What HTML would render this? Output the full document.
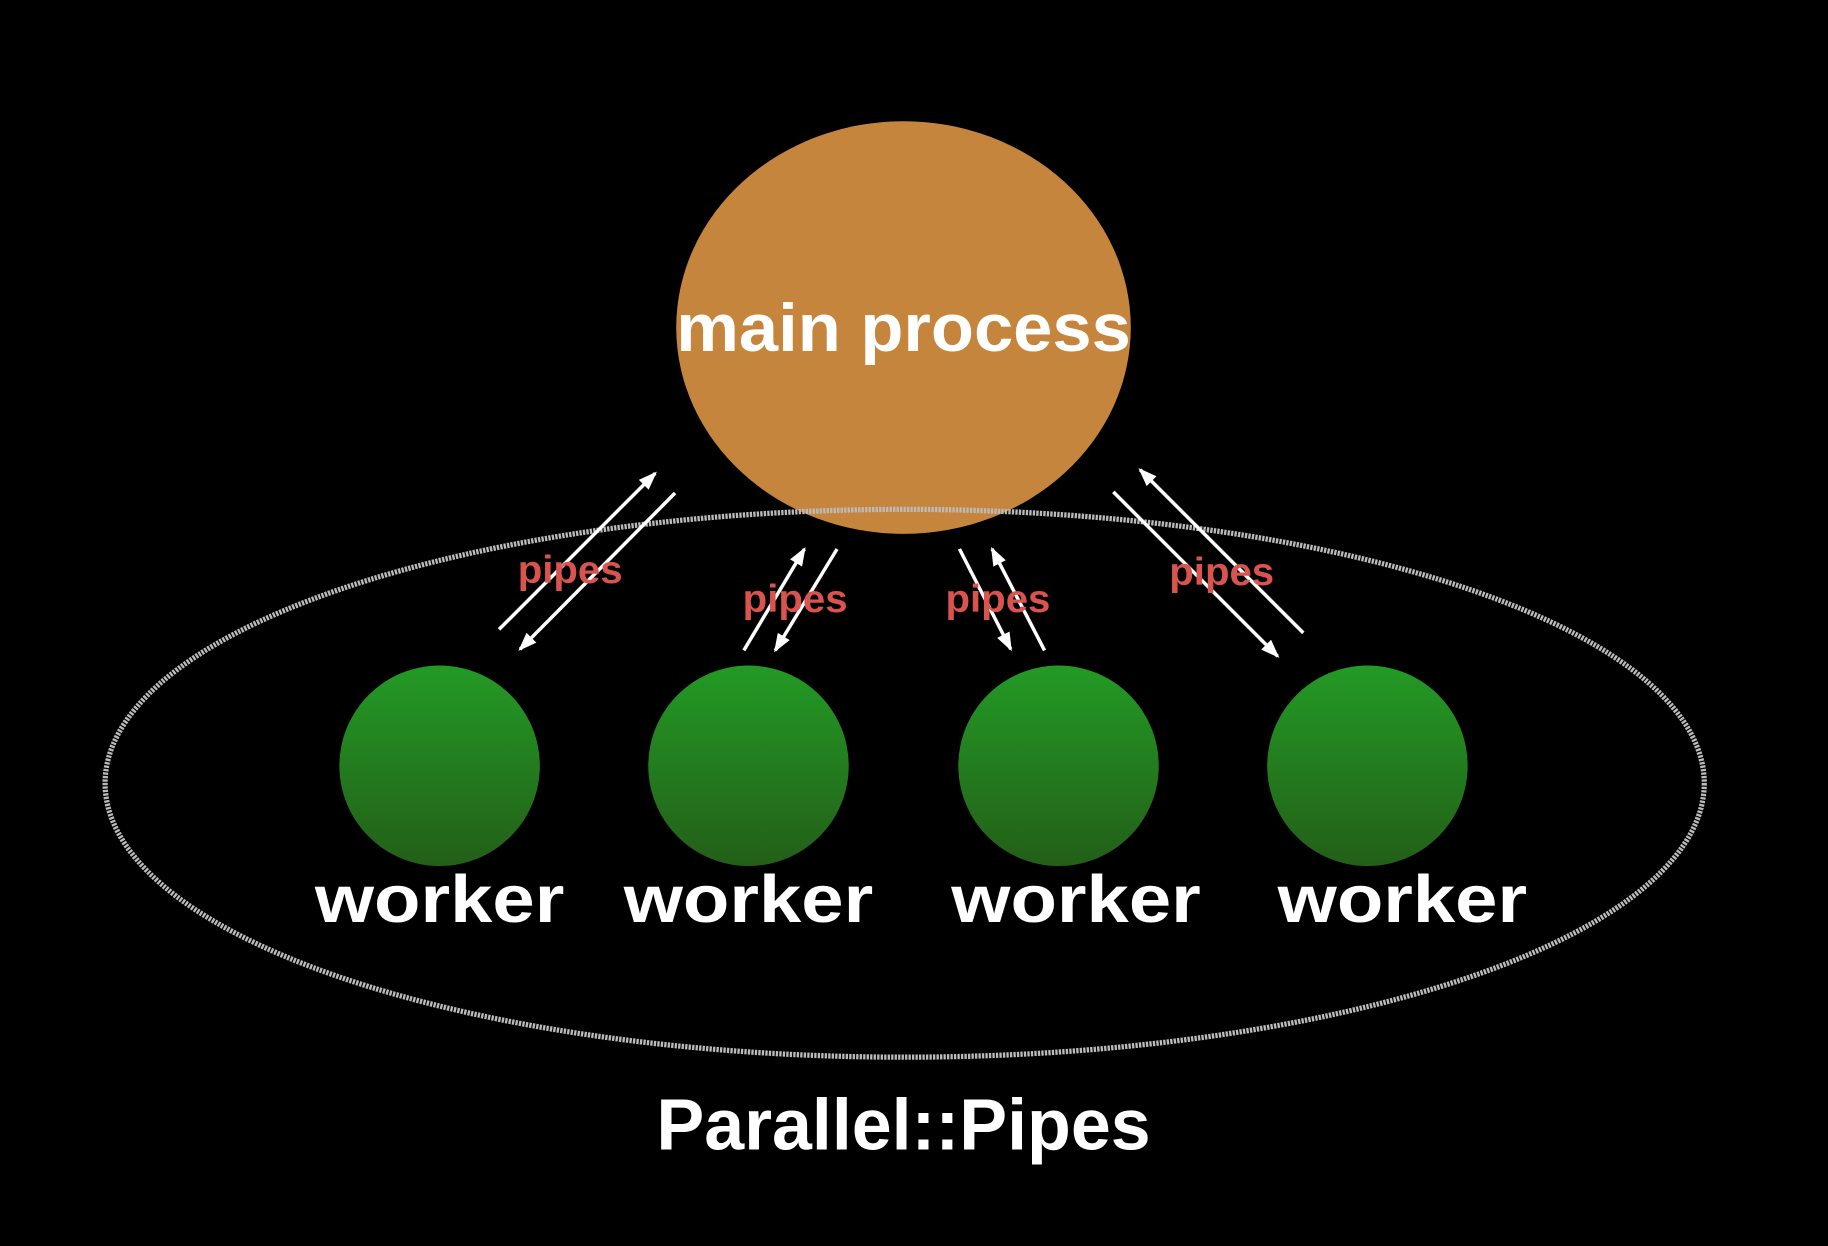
<!DOCTYPE html>
<html><head><meta charset="utf-8"><style>
html,body{margin:0;padding:0;background:#000;}
svg{display:block;}
text{font-family:"Liberation Sans",sans-serif;font-weight:bold;}
</style></head><body>
<svg width="1828" height="1246" viewBox="0 0 1568 1069" xmlns="http://www.w3.org/2000/svg">
<defs>
<linearGradient id="g" x1="0" y1="0" x2="0" y2="1">
<stop offset="0" stop-color="#239a25"/><stop offset="1" stop-color="#235f18"/>
</linearGradient>
<marker id="b" markerWidth="16" markerHeight="12" refX="14" refY="6" orient="auto" markerUnits="userSpaceOnUse">
<path d="M0,0 L16,6 L0,12 z" fill="#fff"/>
</marker>
</defs>
<rect width="1568" height="1069" fill="#000"/>
<ellipse cx="775" cy="281" rx="195" ry="177" fill="#c5853d"/>
<ellipse cx="776" cy="672" rx="686" ry="235" fill="none" stroke="#bbb" stroke-width="4.5" stroke-dasharray="2 1"/>
<circle cx="377" cy="657" r="86" fill="url(#g)"/>
<circle cx="642" cy="657" r="86" fill="url(#g)"/>
<circle cx="908" cy="657" r="86" fill="url(#g)"/>
<circle cx="1173" cy="657" r="86" fill="url(#g)"/>
<g stroke="#fff" stroke-width="3" marker-end="url(#b)">
<line x1="428" y1="540" x2="562" y2="406"/>
<line x1="579" y1="423" x2="446" y2="557"/>
<line x1="638" y1="558" x2="690" y2="471"/>
<line x1="718" y1="471" x2="665" y2="558"/>
<line x1="823" y1="471" x2="867" y2="557"/>
<line x1="896" y1="558" x2="851" y2="471"/>
<line x1="955" y1="422" x2="1096" y2="563"/>
<line x1="1118" y1="543" x2="978" y2="403"/>
</g>
<g fill="#d9534f" font-size="33" text-anchor="middle">
<text x="489" y="500" textLength="90" lengthAdjust="spacingAndGlyphs">pipes</text>
<text x="682" y="525" textLength="90" lengthAdjust="spacingAndGlyphs">pipes</text>
<text x="856" y="525" textLength="90" lengthAdjust="spacingAndGlyphs">pipes</text>
<text x="1048" y="502" textLength="90" lengthAdjust="spacingAndGlyphs">pipes</text>
</g>
<g fill="#fff" text-anchor="middle">
<text x="775" y="301" font-size="58" textLength="390" lengthAdjust="spacingAndGlyphs">main process</text>
<text x="377" y="791" font-size="57" textLength="214" lengthAdjust="spacingAndGlyphs">worker</text>
<text x="642" y="791" font-size="57" textLength="214" lengthAdjust="spacingAndGlyphs">worker</text>
<text x="923" y="791" font-size="57" textLength="214" lengthAdjust="spacingAndGlyphs">worker</text>
<text x="1203" y="791" font-size="57" textLength="214" lengthAdjust="spacingAndGlyphs">worker</text>
<text x="775" y="986" font-size="62" textLength="424" lengthAdjust="spacingAndGlyphs">Parallel::Pipes</text>
</g>
</svg>
</body></html>
